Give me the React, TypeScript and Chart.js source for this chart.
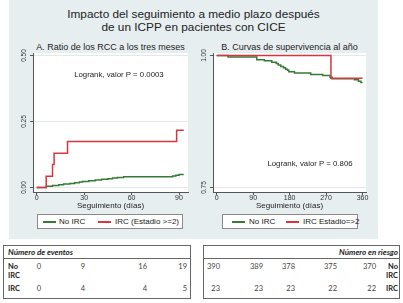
import React, { useEffect, useRef } from "react";
import { Chart, registerables } from "chart.js";

Chart.register(...registerables);

// ---------- texts ----------
const TITLE_LINES = ["Impacto del seguimiento a medio plazo después", "de un ICPP en pacientes con CICE"];
const SUBTITLE_A = "A. Ratio de los RCC a los tres meses";
const SUBTITLE_B = "B. Curvas de supervivencia al año";
const X_TITLE = "Seguimiento (días)";
const LEGEND_A = ["No IRC", "IRC (Estadio >=2)"];
const LEGEND_B = ["No IRC", "IRC Estadio=>2"];
const NOTE_A = "Logrank, valor P = 0.0003";
const NOTE_B = "Logrank, valor P = 0.806";

// ---------- ticks ----------
const xTicksA = [0, 30, 60, 90];
const yTicksA = [0, 0.25, 0.5];
const xTicksB = [0, 90, 180, 270, 360];
const yTicksB = [0.75, 1.0];

// ---------- panel A: cumulative incidence (step points) ----------
const daysA_No = [0, 6, 10, 14, 17, 21, 24, 27, 29, 33, 37, 41, 45, 48, 51, 55, 86, 88, 90, 93];
const incA_No = [0, 0.005, 0.008, 0.010, 0.013, 0.015, 0.018, 0.021, 0.023, 0.026, 0.028, 0.031, 0.033, 0.036, 0.038, 0.041, 0.044, 0.046, 0.049, 0.049];
const daysA_Irc = [0, 6, 10, 11, 19.5, 88.5, 93];
const incA_Irc = [0, 0.043, 0.087, 0.130, 0.174, 0.217, 0.217];

// ---------- panel B: survival (step points) ----------
const daysB_No = [0, 28, 99, 118, 136, 147, 152, 158, 165, 170, 175, 178, 192, 232, 262, 280, 285, 340, 350, 356, 360];
const survB_No = [1, 0.997, 0.992, 0.990, 0.987, 0.985, 0.982, 0.979, 0.977, 0.974, 0.972, 0.969, 0.967, 0.964, 0.962, 0.959, 0.956, 0.954, 0.951, 0.949, 0.949];
const daysB_Irc = [0, 282, 360];
const survB_Irc = [1, 0.957, 0.957];

// ---------- tables ----------
const EVENTS_HEADER = "Número de eventos";
const RISK_HEADER = "Número en riesgo";
const eventsNoIRC = [0, 9, 16, 19];
const eventsIRC = [0, 4, 4, 5];
const riskNoIRC = [390, 389, 378, 375, 370];
const riskIRC = [23, 23, 23, 22, 22];

// ---------- style ----------
const FONT = "'Liberation Sans', Arial, Helvetica, sans-serif";
const TFONT = "Lato, 'Open Sans', sans-serif";
const GREEN = "#377a35";
const RED = "#d8363c";
const AXIS = "#555";
const GRID = "#e3e8ea";
const PANEL_BG = "#e6eef0";

const whiteArea = {
  id: "whiteArea",
  beforeDraw(chart: any) {
    const { ctx, chartArea: a } = chart;
    ctx.save();
    ctx.fillStyle = "#fff";
    ctx.fillRect(a.left, a.top, a.right - a.left, a.bottom - a.top);
    ctx.restore();
  },
};

const yLabels = {
  id: "yLabels",
  afterDraw(chart: any, _args: any, opts: any) {
    const s = chart.scales.y;
    const ctx = chart.ctx;
    ctx.save();
    ctx.font = `6.5px ${FONT}`;
    ctx.fillStyle = "#333";
    ctx.textAlign = "center";
    ctx.textBaseline = "middle";
    s.ticks.forEach((t: any) => {
      const y = s.getPixelForValue(t.value);
      ctx.save();
      ctx.translate(chart.chartArea.left - opts.offset, y);
      ctx.rotate(-Math.PI / 2);
      ctx.fillText(Number(t.value).toFixed(2), 0, 0);
      ctx.restore();
    });
    ctx.restore();
  },
};

const note = {
  id: "note",
  afterDraw(chart: any, _args: any, opts: any) {
    const ctx = chart.ctx;
    const a = chart.chartArea;
    const x = chart.scales.x.getPixelForValue(opts.x);
    const y = chart.scales.y.getPixelForValue(opts.y);
    ctx.save();
    ctx.font = `7.8px ${FONT}`;
    ctx.fillStyle = "#222";
    ctx.textAlign = "center";
    ctx.textBaseline = "middle";
    ctx.fillText(opts.text, x, y);
    ctx.font = `8px ${FONT}`;
    ctx.fillText(opts.xTitle, (a.left + a.right) / 2, a.bottom + opts.titleGap);
    ctx.restore();
  },
};

function toPts(xs: number[], ys: number[]) {
  return xs.map((x, i) => ({ x, y: ys[i] }));
}

function makeConfig(p: any) {
  return {
    type: "line",
    data: {
      datasets: [
        { label: p.labels[1], data: toPts(p.xIrc, p.yIrc), borderColor: RED, borderWidth: 1.5, pointRadius: 0, stepped: "before", fill: false },
        { label: p.labels[0], data: toPts(p.xNo, p.yNo), borderColor: GREEN, borderWidth: 1.5, pointRadius: 0, stepped: "before", fill: false },
      ],
    },
    options: {
      animation: false,
      responsive: false,
      devicePixelRatio: 1,
      layout: { padding: p.padding },
      plugins: {
        legend: { display: false },
        tooltip: { enabled: false },
        yLabels: { offset: 8.5 },
        note: { text: p.note, x: p.noteX, y: p.noteY, xTitle: X_TITLE, titleGap: 13.5 },
      },
      scales: {
        x: {
          type: "linear",
          min: p.xMin,
          max: p.xMax,
          afterBuildTicks: (s: any) => { s.ticks = p.xTicks.map((v: number) => ({ value: v })); },
          afterFit: (s: any) => { s.height = 17; },
          grid: { drawOnChartArea: false, tickLength: 3, tickColor: AXIS, color: AXIS },
          border: { color: AXIS, width: 1 },
          ticks: { font: { family: FONT, size: 7, lineHeight: 1 }, color: "#333", padding: 0, maxRotation: 0, autoSkip: false },
          title: { display: false },
        },
        y: {
          type: "linear",
          min: p.yMin,
          max: p.yMax,
          afterBuildTicks: (s: any) => { s.ticks = p.yTicks.map((v: number) => ({ value: v })); },
          afterFit: (s: any) => { s.width = p.yWidth; },
          grid: { color: GRID, tickLength: 3, tickColor: AXIS, lineWidth: 1 },
          border: { color: AXIS, width: 1 },
          ticks: { display: false },
        },
      },
    },
    plugins: [whiteArea, yLabels, note],
  };
}

function KMChart({ p, left, top, width, height }: any) {
  const ref = useRef<HTMLCanvasElement>(null);
  useEffect(() => {
    const chart = new Chart(ref.current as any, makeConfig(p) as any);
    return () => chart.destroy();
  }, []);
  return (
    <canvas
      ref={ref}
      width={width}
      height={height}
      style={{ position: "absolute", left, top, width, height }}
    />
  );
}

function Legend({ left, top, width, items, pos }: any) {
  return (
    <div style={{ position: "absolute", left, top, width, height: 15, boxSizing: "border-box", border: "1px solid #8a8a8a", background: "#fff" }}>
      {items.map((t: string, i: number) => (
        <React.Fragment key={i}>
          <div style={{ position: "absolute", left: pos[i][0], top: 6, width: 13, height: 1.5, background: i === 0 ? GREEN : RED }} />
          <div style={{ position: "absolute", left: pos[i][1], top: 0, height: 13, lineHeight: "13px", fontFamily: FONT, fontSize: 8, color: "#222", whiteSpace: "nowrap" }}>{t}</div>
        </React.Fragment>
      ))}
    </div>
  );
}

function T({ x, y, children, align = "left", bold = false, italic = false, color = "#444", size = 7.5 }: any) {
  return (
    <div
      style={{
        position: "absolute",
        left: x,
        top: y,
        transform: align === "right" ? "translate(-100%, -50%)" : "translate(0, -50%)",
        fontFamily: TFONT,
        fontSize: size,
        lineHeight: 1,
        fontWeight: bold ? 700 : 400,
        fontStyle: italic ? "italic" : "normal",
        color,
        whiteSpace: "nowrap",
      }}
    >
      {children}
    </div>
  );
}

const pA = {
  labels: LEGEND_A, xNo: daysA_No, yNo: incA_No, xIrc: daysA_Irc, yIrc: incA_Irc,
  xMin: -2.34, xMax: 95.69, yMin: -0.017, yMax: 0.5095, xTicks: xTicksA, yTicks: yTicksA,
  padding: { left: 0, right: 12, top: 13, bottom: 3 }, yWidth: 24,
  note: NOTE_A, noteX: 52, noteY: 0.428,
};
const pB = {
  labels: LEGEND_B, xNo: daysB_No, yNo: survB_No, xIrc: daysB_Irc, yIrc: survB_Irc,
  xMin: -9.1, xMax: 368.6, yMin: 0.7415, yMax: 1.0047, xTicks: xTicksB, yTicks: yTicksB,
  padding: { left: 0, right: 12, top: 13, bottom: 3 }, yWidth: 13,
  note: NOTE_B, noteX: 230.4, noteY: 0.7945,
};

const evCols = [41, 85, 147, 187];
const rkCols = [220, 263, 295, 337, 376];

export default function App() {
  return (
    <div style={{ position: "absolute", left: 0, top: 0, width: 403, height: 303, background: "#fff", overflow: "hidden" }}>
      <div style={{ position: "absolute", left: 9, top: 0, width: 369, height: 239, background: PANEL_BG }} />
      <div style={{ position: "absolute", left: 9, top: 7.5, width: 369, textAlign: "center", fontFamily: FONT, fontSize: 11.8, lineHeight: "13.8px", color: "#222" }}>
        {TITLE_LINES.map((l, i) => <div key={i}>{l}</div>)}
      </div>
      <div style={{ position: "absolute", left: 33, top: 42, width: 155, textAlign: "center", fontFamily: FONT, fontSize: 9, lineHeight: "10px", color: "#222", whiteSpace: "nowrap" }}>{SUBTITLE_A}</div>
      <div style={{ position: "absolute", left: 213, top: 42, width: 153, textAlign: "center", fontFamily: FONT, fontSize: 9, lineHeight: "10px", color: "#222", whiteSpace: "nowrap" }}>{SUBTITLE_B}</div>

      <KMChart p={pA} left={9} top={40} width={191} height={172} />
      <KMChart p={pB} left={200} top={40} width={178} height={172} />

      <Legend left={37} top={214} width={146} items={LEGEND_A} pos={[[5, 21], [60, 77]]} />
      <Legend left={222} top={214} width={136} items={LEGEND_B} pos={[[9, 26], [63, 80]]} />

      {/* events table */}
      <div style={{ position: "absolute", left: 3, top: 245, width: 188, height: 54, boxSizing: "border-box", border: "1px solid #666" }} />
      <div style={{ position: "absolute", left: 3, top: 258, width: 188, height: 1, background: "#666" }} />
      <T x={8} y={251.5} bold italic color="#222" size={8}>{EVENTS_HEADER}</T>
      <T x={8} y={266.5} bold color="#222">No</T>
      <T x={8} y={276} bold color="#222">IRC</T>
      <T x={8} y={288.5} bold color="#222">IRC</T>
      {eventsNoIRC.map((v, i) => <T key={"en" + i} x={evCols[i]} y={266.5} align="right">{v}</T>)}
      {eventsIRC.map((v, i) => <T key={"ei" + i} x={evCols[i]} y={288.5} align="right">{v}</T>)}

      {/* risk table */}
      <div style={{ position: "absolute", left: 203, top: 245, width: 197, height: 54, boxSizing: "border-box", border: "1px solid #666" }} />
      <div style={{ position: "absolute", left: 203, top: 258, width: 197, height: 1, background: "#666" }} />
      <T x={398} y={251.5} bold italic color="#222" align="right" size={8}>{RISK_HEADER}</T>
      <T x={398} y={266.5} bold color="#222" align="right">No</T>
      <T x={398} y={276} bold color="#222" align="right">IRC</T>
      <T x={398} y={288.5} bold color="#222" align="right">IRC</T>
      {riskNoIRC.map((v, i) => <T key={"rn" + i} x={rkCols[i]} y={266.5} align="right">{v}</T>)}
      {riskIRC.map((v, i) => <T key={"ri" + i} x={rkCols[i]} y={288.5} align="right">{v}</T>)}
    </div>
  );
}
